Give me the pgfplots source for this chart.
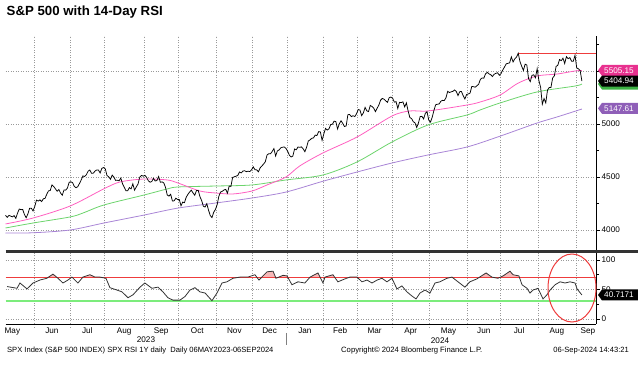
\documentclass[border=0pt]{standalone}
\usepackage{fontspec}
\setmainfont{Liberation Sans}
\usepackage{pgfplots}
\usepackage{pgfplotstable}
\pgfplotsset{compat=1.18}
\usetikzlibrary{calc}
\definecolor{maA}{HTML}{FF5FC0}
\definecolor{maB}{HTML}{6CD46C}
\definecolor{maC}{HTML}{A985D6}
\definecolor{tagA}{HTML}{E8318F}
\definecolor{tagB}{HTML}{3CB043}
\definecolor{tagC}{HTML}{8F5FB8}
\definecolor{hiline}{RGB}{238,60,60}
\definecolor{osgreen}{HTML}{7CEC7C}
\definecolor{rsifill}{HTML}{F6B8B8}
\definecolor{gridc}{HTML}{9A9A9A}

\pgfplotstableread{
x y
0.9 55
6.7 52
8.4 61
12.5 51
16 61
20 66
24 69
27.6 76
30.5 69
33.4 61
36.3 66
38.6 71
42.1 61
45 71
49.1 75
52 71
54.9 71
58.4 69
60.7 53
64.8 49
67.7 46
71.2 36
74.1 41
78.2 54
81 61
85.1 52
88.6 54
91.5 46
94.4 36
97.3 32
101.4 32
104.3 38
107.2 49
110.1 53
113 46
116 44
120 31
122.9 44
125.8 61
128.7 63
132.2 69
136.3 71
140.9 71
145 75
147.3 66
152 80
155.5 81
157.2 69
161.3 74
163.6 73
166.5 58
170 63
174 61
177 71
181.6 78
184.5 61
185.7 71
190.3 75
193.2 63
197.3 68
200.2 71
204.3 71
207.2 63
210.1 66
213 61
216 66
218.8 69
221.7 63
224.6 69
227.5 51
230.4 56
233.3 46
236.2 39
238.6 34
240.9 44
243.8 49
246.7 44
249.6 61
252.5 63
256.6 69
259.5 71
263 63
267 54
269.9 63
274 68
279.3 78
282.7 71
286.2 69
289.2 73
293.2 81
295 75
298.4 73
300.2 58
303.1 52
304.8 44
306.6 49
309.5 52
312.4 34
314.7 41
316.5 49
319.4 58
322.3 63
325.2 61
328.1 63
331 61
332.2 51
335 40.7
}\rsitable

\newcommand{\pricetag}[3]{% coordinate, colour, text
  \fill[#2] (#1) ++(2bp,0bp) -- ++(4bp,5.5bp) -- ++(36bp,0bp) -- ++(0bp,-11bp) -- ++(-36bp,0bp) -- cycle;
  \node[text=white, font=\fontsize{8.2}{9}\selectfont, anchor=center, inner sep=0pt] at ($(#1)+(23bp,0bp)$) {#3};
}

\begin{document}
\begin{tikzpicture}
\useasboundingbox (0bp,0bp) rectangle (638bp,367bp);
\node[anchor=west, inner sep=0pt, font=\fontsize{13.3}{16}\selectfont\bfseries] at (6.5bp,354.5bp) {S\&P 500 with 14-Day RSI};

\begin{axis}[
  at={(5.5bp,331bp)}, anchor=north west, scale only axis,
  width=590.5bp, height=215bp,
  xmin=0, xmax=343.2, ymin=3802, ymax=5830,
  axis y line*=right, axis x line*=bottom,
  x axis line style={draw=none},
  y axis line style={black, line width=0.8bp},
  xtick={16.5,37.5,57.5,80.5,100.5,122.5,143.5,163.5,184.5,204.5,224.5,246.5,268.5,287.5,309.5,331.5},
  xticklabels={},
  major x tick style={draw=none},
  ytick={4000,4500,5000,5500}, yticklabels={4000,4500,5000,{}},
  minor ytick={4250,4750,5250,5750},
  tick align=outside, major tick length=4bp, minor tick length=3bp,
  every tick/.style={black, line width=0.6bp},
  yticklabel style={font=\fontsize{8.2}{9}\selectfont, inner sep=1.5bp},
  /pgf/number format/assume math mode=true,
  /pgf/number format/1000 sep={},
  xmajorgrids, ymajorgrids,
  major grid style={gridc, line width=0.5bp, dash pattern=on 1bp off 1.5bp},
  clip=false,
]
\addplot[color=maC, line width=0.8bp, smooth] coordinates {
(0,3972) (16,3974) (37.5,4000) (57.2,4066) (80.5,4141) (100.3,4207) (122.3,4255) (143.3,4302) (163,4358) (184.5,4460) (204.3,4547) (224.6,4632) (245.6,4708) (268.2,4783) (287.4,4885) (308.9,5009) (320.5,5066) (335,5141)};
\addplot[color=maB, line width=0.8bp, smooth] coordinates {
(0,4019) (16,4066) (37.5,4123) (45,4160) (57.2,4236) (80.5,4330) (93.9,4387) (100.3,4406) (122.3,4415) (143.3,4425) (163,4472) (184.5,4519) (204.3,4642) (224.6,4830) (245.6,4991) (268.2,5085) (275.8,5132) (287.4,5198) (308.9,5302) (331,5358) (335,5377)};
\addplot[color=maA, line width=0.8bp, smooth] coordinates {
(0,4057) (16,4113) (37.5,4226) (57,4387) (66.5,4453) (80.5,4481) (94,4472) (100.3,4443) (113,4368) (122.3,4349) (132.2,4340) (143.3,4368) (152,4425) (163,4500) (171,4604) (184.5,4727) (204.3,4877) (224.6,5075) (235,5123) (245.6,5123) (268.2,5179) (275.8,5207) (287.4,5273) (297.9,5385) (308.9,5453) (320.5,5471) (331,5500) (335,5505)};
\addplot[color=hiline, line width=1.1bp] coordinates {(298,5667) (343.2,5667)};
\addplot[color=black, line width=0.75bp] coordinates {
(0,4138) (1,4119) (2,4138) (3,4131) (4,4124) (5,4136) (6,4110) (7,4159) (8,4198) (9,4192) (10,4193) (11,4146) (12,4116) (13,4151) (14,4205) (15,4206) (16,4180)
(17,4221) (18,4282) (19,4273) (20,4284) (21,4268) (22,4294) (23,4299) (24,4338) (25,4369) (26,4373) (27,4425) (28,4410) (29,4389) (30,4366) (31,4382) (32,4349) (33,4328) (34,4378) (35,4376) (36,4396) (37,4450)
(38,4455) (39,4446) (40,4411) (41,4399) (42,4409) (43,4439) (44,4472) (45,4510) (46,4505) (47,4522) (48,4555) (49,4566) (50,4535) (51,4536) (52,4555) (53,4567) (54,4566) (55,4538) (56,4582) (57,4589)
(58,4577) (59,4513) (60,4502) (61,4478) (62,4518) (63,4499) (64,4468) (65,4469) (66,4464) (67,4490) (68,4437) (69,4404) (70,4370) (71,4370) (72,4400) (73,4388) (74,4436) (75,4376) (76,4406) (77,4433) (78,4497) (79,4515) (80,4508)
(81,4516) (82,4497) (83,4465) (84,4451) (85,4457) (86,4487) (87,4462) (88,4467) (89,4505) (90,4450) (91,4454) (92,4444) (93,4402) (94,4330) (95,4320) (96,4337) (97,4274) (98,4275) (99,4300) (100,4288)
(101,4288) (102,4229) (103,4263) (104,4258) (105,4308) (106,4336) (107,4358) (108,4376) (109,4349) (110,4328) (111,4373) (112,4374) (113,4315) (114,4278) (115,4224) (116,4217) (117,4248) (118,4187) (119,4137) (120,4117) (121,4167) (122,4194)
(123,4238) (124,4318) (125,4358) (126,4365) (127,4378) (128,4383) (129,4347) (130,4415) (131,4411) (132,4496) (133,4502) (134,4508) (135,4514) (136,4547) (137,4538) (138,4556) (139,4559) (140,4550) (141,4555) (142,4551) (143,4568)
(144,4595) (145,4569) (146,4567) (147,4549) (148,4586) (149,4604) (150,4622) (151,4644) (152,4707) (153,4720) (154,4719) (155,4741) (156,4768) (157,4698) (158,4746) (159,4755) (160,4775) (161,4781) (162,4783) (163,4770)
(164,4743) (165,4705) (166,4689) (167,4697) (168,4764) (169,4757) (170,4783) (171,4780) (172,4784) (173,4766) (174,4739) (175,4781) (176,4840) (177,4850) (178,4865) (179,4869) (180,4895) (181,4891) (182,4928) (183,4925) (184,4846)
(185,4906) (186,4959) (187,4943) (188,4954) (189,4995) (190,4998) (191,5027) (192,5022) (193,4953) (194,5001) (195,5030) (196,5006) (197,4976) (198,4982) (199,5088) (200,5089) (201,5070) (202,5078) (203,5070) (204,5096)
(205,5137) (206,5131) (207,5079) (208,5105) (209,5157) (210,5124) (211,5117) (212,5175) (213,5165) (214,5150) (215,5117) (216,5149) (217,5179) (218,5225) (219,5241) (220,5234) (221,5218) (222,5204) (223,5248) (224,5254)
(225,5243) (226,5206) (227,5211) (228,5147) (229,5204) (230,5202) (231,5209) (232,5161) (233,5199) (234,5123) (235,5061) (236,5051) (237,5022) (238,5011) (239,4967) (240,5010) (241,5070) (242,5072) (243,5048) (244,5100) (245,5116) (246,5036)
(247,5018) (248,5064) (249,5128) (250,5181) (251,5187) (252,5188) (253,5214) (254,5223) (255,5221) (256,5247) (257,5308) (258,5297) (259,5303) (260,5308) (261,5321) (262,5307) (263,5268) (264,5305) (265,5306) (266,5267) (267,5236) (268,5278)
(269,5283) (270,5291) (271,5354) (272,5352) (273,5347) (274,5361) (275,5375) (276,5421) (277,5434) (278,5432) (279,5473) (280,5487) (281,5473) (282,5465) (283,5448) (284,5469) (285,5478) (286,5483) (287,5460)
(288,5475) (289,5509) (290,5537) (291,5567) (292,5572) (293,5577) (294,5633) (295,5585) (296,5615) (297,5631) (298,5667) (299,5589) (300,5545) (301,5505) (302,5564) (303,5556) (304,5427) (305,5400) (306,5459) (307,5464) (308,5436) (309,5522)
(310,5410) (311,5347) (312,5186) (313,5240) (314,5199) (315,5319) (316,5344) (317,5344) (318,5434) (319,5455) (320,5543) (321,5554) (322,5608) (323,5597) (324,5621) (325,5571) (326,5635) (327,5616) (328,5626) (329,5592) (330,5592) (331,5648)
(332,5528) (333,5520) (334,5503) (335,5405)};
\coordinate (tA) at (axis cs:343.2,5505.15);
\coordinate (tB) at (axis cs:343.2,5377);
\coordinate (tK) at (axis cs:343.2,5404.94);
\coordinate (tC) at (axis cs:343.2,5147.61);
\end{axis}
\pricetag{tA}{tagA}{5505.15}
\pricetag{tB}{tagB}{}
\pricetag{tK}{black}{5404.94}
\pricetag{tC}{tagC}{5147.61}

\draw[line width=3bp, black!80] (5.5bp,115bp) -- (638bp,115bp);

\begin{axis}[
  at={(5.5bp,113.5bp)}, anchor=north west, scale only axis,
  width=590.5bp, height=70.5bp,
  xmin=0, xmax=343.2, ymin=-8.5, ymax=111,
  axis y line*=right, axis x line*=bottom,
  axis line style={black, line width=0.8bp},
  xtick={16.5,37.5,57.5,80.5,100.5,122.5,143.5,163.5,184.5,204.5,224.5,246.5,268.5,287.5,309.5,331.5},
  xticklabels={},
  major x tick style={gridc, line width=0.5bp, dash pattern=on 1bp off 1.5bp},
  extra x ticks={4,27,47.5,69,90.5,111.5,133,153.5,174,194.5,214.5,235.5,257.5,278,298.5,320.5,338.5},
  extra x tick labels={May,Jun,Jul,Aug,Sep,Oct,Nov,Dec,Jan,Feb,Mar,Apr,May,Jun,Jul,Aug,Sep},
  extra x tick style={grid=none, major tick length=0pt, tick label style={font=\fontsize{8.2}{9}\selectfont, inner sep=1bp, yshift=-2.5bp}},
  ytick={0,50,100}, minor ytick={25,75},
  tick align=outside, major tick length=4bp, minor tick length=3bp,
  major y tick style={black, line width=0.6bp},
  minor y tick style={black, line width=0.6bp},
  yticklabel style={font=\fontsize{8.2}{9}\selectfont, inner sep=1.5bp},
  /pgf/number format/assume math mode=true,
  xmajorgrids, ymajorgrids,
  major grid style={gridc, line width=0.5bp, dash pattern=on 1bp off 1.5bp},
  clip=false,
]
\addplot[fill=rsifill, draw=none, forget plot] coordinates {(24.4,70)(27.6,76)(30.2,70)} -- cycle;
\addplot[fill=rsifill, draw=none, forget plot] coordinates {(44.7,70)(45,71)(49.1,75)(52,71)(54.9,71)(56.6,70)} -- cycle;
\addplot[fill=rsifill, draw=none, forget plot] coordinates {(148.6,70)(152,80)(155.5,81)(157.1,70)} -- cycle;
\addplot[fill=rsifill, draw=none, forget plot] coordinates {(158,70)(161.3,74)(163.6,73)(164.2,70)} -- cycle;
\addplot[fill=rsifill, draw=none, forget plot] coordinates {(176.7,70)(177,71)(181.6,78)(183,70)} -- cycle;
\addplot[fill=rsifill, draw=none, forget plot] coordinates {(185.6,70)(185.7,71)(190.3,75)(191.5,70)} -- cycle;
\addplot[fill=rsifill, draw=none, forget plot] coordinates {(275.1,70)(279.3,78)(282.7,71)(284.4,70)} -- cycle;
\addplot[fill=rsifill, draw=none, forget plot] coordinates {(286.9,70)(289.2,73)(293.2,81)(295,75)(298.4,73)(298.8,70)} -- cycle;
\addplot[color=hiline, line width=1.1bp] coordinates {(0,70) (343.2,70)};
\addplot[color=osgreen, line width=1.6bp] coordinates {(0,30) (343.2,30)};
\addplot[color=black!80, line width=0.8bp] table {\rsitable};
\coordinate (tR) at (axis cs:343.2,40.7171);
\end{axis}
\pricetag{tR}{black}{40.7171}

\draw[hiline, line width=1bp] (572bp,79bp) ellipse [x radius=24bp, y radius=34bp];

\node[font=\fontsize{8.2}{9}\selectfont] at (146bp,27bp) {2023};
\node[font=\fontsize{8.2}{9}\selectfont] at (440bp,26bp) {2024};
\draw[gray, line width=0.6bp] (286bp,34bp) -- (286bp,22bp);

\node[anchor=west, inner sep=0pt, font=\fontsize{7.6}{9}\selectfont] at (7bp,16bp) {SPX Index (S\&P 500 INDEX) SPX RSI 1Y daily\ \ Daily 06MAY2023-06SEP2024};
\node[anchor=west, inner sep=0pt, font=\fontsize{7.7}{9}\selectfont] at (341bp,16bp) {Copyright© 2024 Bloomberg Finance L.P.};
\node[anchor=east, inner sep=0pt, font=\fontsize{7.6}{9}\selectfont] at (629bp,16bp) {06-Sep-2024 14:43:21};
\end{tikzpicture}
\end{document}
